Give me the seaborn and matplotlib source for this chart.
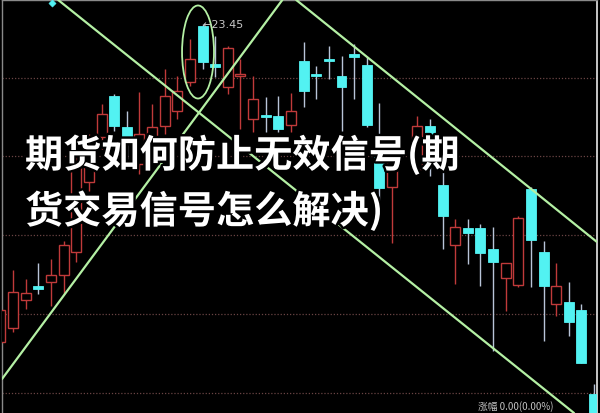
import matplotlib
matplotlib.use("Agg")
import matplotlib.pyplot as plt
import matplotlib.patheffects as pe
from matplotlib.patches import Ellipse
import numpy as np
import pandas as pd
import seaborn as sns

# daily bars (index 32 is hidden behind the title, not drawn)
day = [0, 1, 2, 3, 4, 5, 6, 7, 8, 9, 10, 11, 12, 13, 14, 15, 16, 17, 18, 19, 20, 21, 22, 23,
       24, 25, 26, 27, 28, 29, 30, 31, 33, 34, 35, 36, 37, 38, 39, 40, 41, 42, 43, 44, 45, 46, 47]
open_ = [20.27, 20.41, 20.69, 20.82, 20.87, 20.94, 21.17, 21.87, 22.32, 22.73, 22.42, 22.05, 22.30, 22.43,
         22.58, 22.87, 23.43, 23.05, 22.82, 22.93, 22.50, 22.54, 22.53, 22.44, 23.08, 22.95, 23.10, 22.93,
         23.14, 23.04, 22.12, 21.82, 22.00, 22.43, 21.84, 21.24, 21.41, 21.41, 21.20, 20.91, 20.84, 21.80,
         21.17, 20.65, 20.67, 20.59, 19.75]
high = [20.66, 20.99, 20.90, 21.06, 21.10, 21.28, 22.25, 22.35, 22.65, 22.75, 22.58, 22.77, 22.65, 23.00,
        22.93, 23.30, 23.45, 23.33, 23.23, 23.10, 22.93, 22.72, 22.73, 22.76, 23.27, 23.03, 23.23, 23.13,
        23.25, 23.12, 22.66, 22.25, 22.53, 22.50, 22.23, 21.50, 21.50, 21.45, 21.42, 21.06, 21.53, 21.82,
        21.28, 21.06, 20.87, 20.65, 19.85]
low = [20.25, 20.37, 20.60, 20.75, 20.63, 20.75, 21.07, 21.78, 22.20, 22.38, 22.10, 21.95, 22.20, 22.35,
       22.50, 22.83, 23.00, 22.92, 22.75, 22.40, 22.37, 22.37, 22.37, 22.37, 22.62, 22.70, 22.90, 22.38,
       22.70, 22.42, 21.56, 21.26, 21.93, 21.93, 21.20, 20.85, 21.05, 20.83, 20.18, 20.58, 20.82, 20.82,
       20.28, 20.53, 20.33, 20.06, 19.50]
close = [20.59, 20.77, 20.76, 20.80, 20.94, 21.24, 22.05, 22.23, 22.55, 22.43, 22.28, 22.35, 22.42, 22.73,
         22.78, 23.10, 23.07, 23.02, 23.21, 22.95, 22.70, 22.52, 22.40, 22.58, 22.78, 22.93, 23.08, 22.82,
         23.12, 22.44, 21.81, 22.20, 22.43, 22.07, 21.53, 21.42, 21.36, 21.16, 21.07, 21.06, 21.51, 21.29,
         20.83, 20.83, 20.47, 20.06, 19.55]

# price levels of the dotted grid
grid_levels = [22.91, 22.125, 21.34, 20.55, 19.76]

# hand-drawn trend lines: (day, price) pairs
trend_a = [(4.47, 23.70), (45.41, 19.56)]
trend_b = [(0.12, 19.90), (22.37, 23.70)]
trend_c = [(23.32, 23.70), (47.23, 21.27)]

peak_day, peak_price = 16, 23.45
title_lines = ["期货如何防止无效信号(期", "货交易信号怎么解决)"]
status_text = "涨幅 0.00(0.00%)"

df = pd.DataFrame({"day": day, "open": open_, "high": high, "low": low, "close": close})
df["up"] = df["close"] >= df["open"]
df["top"] = df[["open", "close"]].max(axis=1)
df["bot"] = df[["open", "close"]].min(axis=1)

sns.set_style("dark", {"axes.facecolor": "black", "figure.facecolor": "black"})

RED = "#c03a3a"
CYAN = "#52f2f2"
CYAN_WICK = "#b8c4d8"
GREEN = "#b4f0a4"

fig = plt.figure(figsize=(6.0, 4.14), dpi=100)
ax = fig.add_axes([2 / 600, 0, 595 / 600, 413 / 414])
ax.set_facecolor("black")

for lv in grid_levels:
    ax.axhline(lv, color="#6a4444", lw=0.9, ls=(0, (1, 1.5)), zorder=1)

w = 0.79
up = df[df["up"]]
dn = df[~df["up"]]

# falling bars: solid cyan
ax.vlines(dn["day"], dn["low"], dn["high"], color=CYAN_WICK, lw=1.0, zorder=2)
ax.bar(dn["day"], (dn["top"] - dn["bot"]).clip(lower=0.025), bottom=dn["bot"], width=w,
       color=CYAN, edgecolor=CYAN, lw=0.6, zorder=3)

# rising bars: hollow red
ax.vlines(up["day"], up["top"], up["high"], color=RED, lw=1.0, zorder=2)
ax.vlines(up["day"], up["low"], up["bot"], color=RED, lw=1.0, zorder=2)
ax.bar(up["day"], (up["top"] - up["bot"]).clip(lower=0.02), bottom=up["bot"], width=w,
       facecolor="black", edgecolor=RED, lw=1.0, zorder=3)

for p1, p2 in (trend_a, trend_b, trend_c):
    ax.axline(p1, p2, color=GREEN, lw=1.6, zorder=5)

ax.add_patch(Ellipse((15.64, 23.17), 2.53, 0.93, fill=False, ec=GREEN, lw=1.3, zorder=5))

ax.annotate(f"←{peak_price:.2f}", xy=(peak_day, peak_price), xytext=(peak_day, peak_price),
            fontsize=8, color="#c8c8c8", va="center", ha="left", zorder=6)

sns.scatterplot(x=[4.1], y=[23.66], marker="D", s=14, color=CYAN, edgecolor=CYAN, ax=ax, zorder=6)

ax.set_xlim(0.119, 47.23)
ax.set_ylim(19.56, 23.69)
ax.set_xticks([])
ax.set_yticks([])
ax.set_xlabel("")
ax.set_ylabel("")
for s in ("left", "top"):
    ax.spines[s].set_color("#8a8a8a")
    ax.spines[s].set_linewidth(1.0)
ax.spines["right"].set_color("#e8e8e8")
ax.spines["right"].set_linewidth(1.2)
ax.spines["bottom"].set_visible(False)

fam = ["Noto Sans CJK SC", "DejaVu Sans"]
stroke = [pe.withStroke(linewidth=3.5, foreground="black")]
fig.text(25 / 600, 1 - 156 / 414, title_lines[0], fontsize=27.5, fontweight="bold", family=fam,
         color="white", va="center", ha="left", path_effects=stroke)
fig.text(25 / 600, 1 - 212 / 414, title_lines[1], fontsize=27.5, fontweight="bold", family=fam,
         color="white", va="center", ha="left", path_effects=stroke)

fig.text(478 / 600, 1 - 412 / 414, status_text, fontsize=7, family=fam,
         color="#c0c0c0", va="bottom", ha="left")

fig.savefig("out.png", dpi=100, facecolor="black")
